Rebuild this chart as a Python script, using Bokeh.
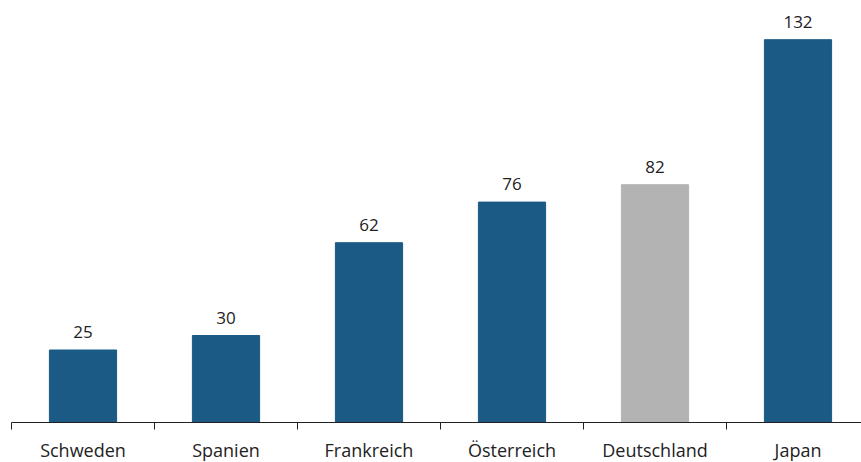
from bokeh.plotting import figure
from bokeh.models import ColumnDataSource, Range1d, FixedTicker, LabelSet
from bokeh.core.properties import value
from bokeh.embed import file_html
from bokeh.resources import INLINE

categories = ["Schweden", "Spanien", "Frankreich", "Österreich", "Deutschland", "Japan"]
values = [25, 30, 62, 76, 82, 132]
colors = ["#1b5a84", "#1b5a84", "#1b5a84", "#1b5a84", "#b3b3b3", "#1b5a84"]

xs = [i + 0.5 for i in range(len(categories))]
src = ColumnDataSource(dict(x=xs, top=values, color=colors,
                            label=[str(v) for v in values]))

p = figure(frame_width=850, frame_height=422, output_backend="svg",
           toolbar_location=None, x_range=Range1d(0, 850 / 143),
           y_range=Range1d(0, 422 / 2.9), y_axis_location=None,
           min_border_left=11, min_border_right=0, min_border_top=0,
           min_border_bottom=0)
p.outline_line_color = None
p.grid.visible = False
p.background_fill_color = "white"
p.border_fill_color = "white"

p.vbar(x="x", top="top", width=0.47, color="color", source=src)

labels = LabelSet(x="x", y="top", text="label", source=src, text_align="center",
                  text_baseline="alphabetic", y_offset=12,
                  text_font=value("Open Sans"),
                  text_font_size=value("17px"), text_color="#222222")
p.add_layout(labels)

ax = p.xaxis[0]
ax.ticker = FixedTicker(ticks=xs, minor_ticks=list(range(len(categories) + 1)))
ax.major_label_overrides = {x: c for x, c in zip(xs, categories)}
ax.major_tick_line_color = None
ax.major_tick_in = 0
ax.major_tick_out = 0
ax.minor_tick_line_color = "#222222"
ax.minor_tick_in = 0
ax.minor_tick_out = 7
ax.axis_line_color = "#222222"
ax.axis_line_width = 1
ax.major_label_text_font = "Open Sans"
ax.major_label_text_font_size = "18px"
ax.major_label_text_color = "#222222"
ax.major_label_standoff = 8

open("out.html", "w").write(file_html(p, INLINE))
